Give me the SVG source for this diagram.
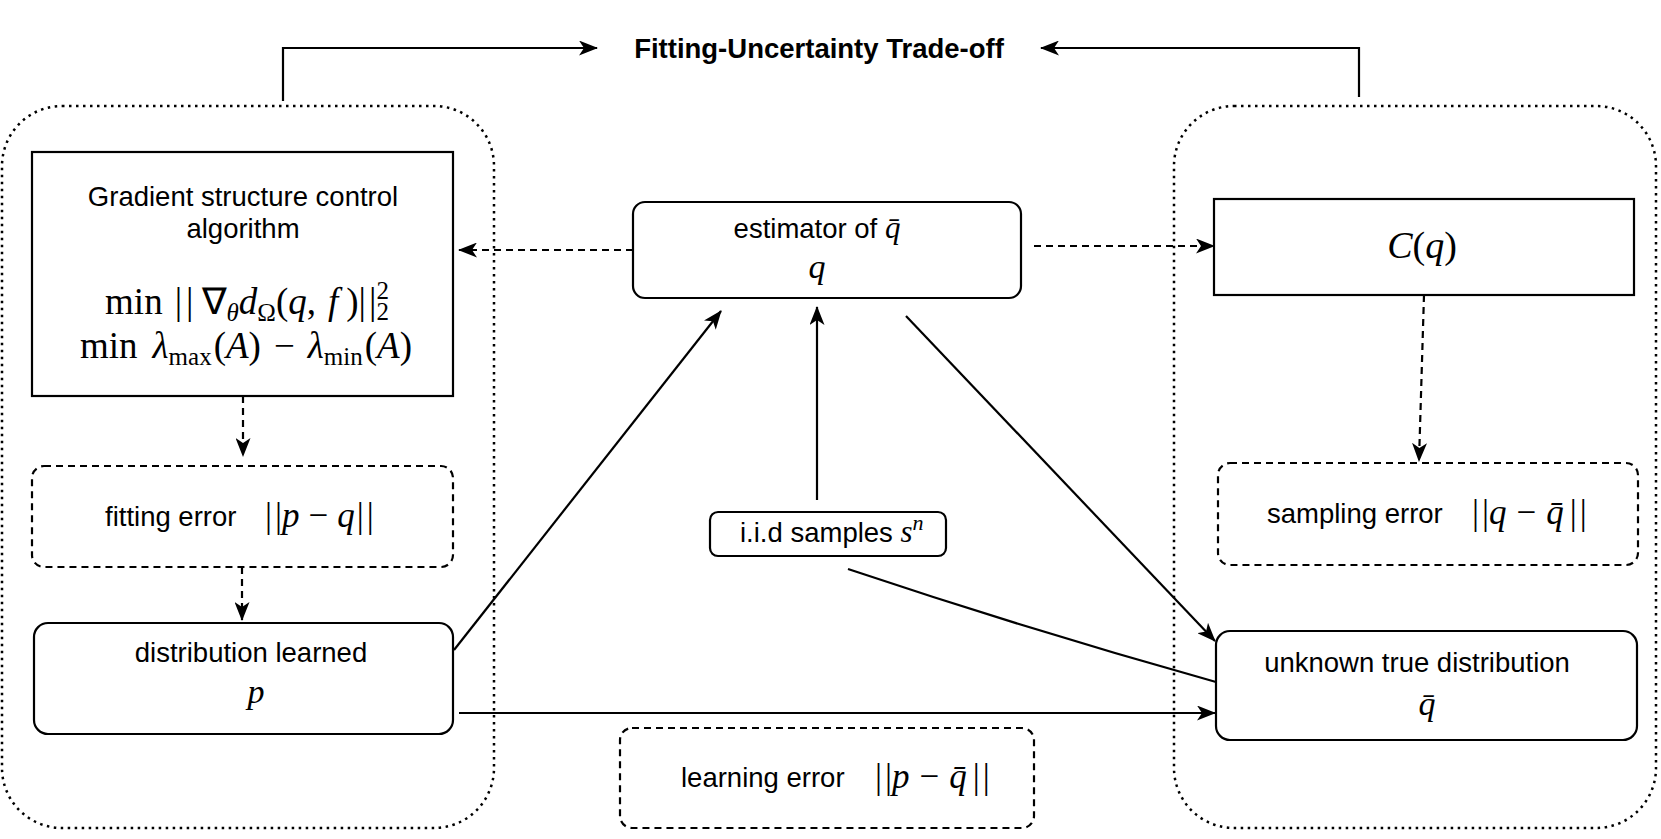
<svg xmlns="http://www.w3.org/2000/svg" width="1661" height="839" viewBox="0 0 1661 839">
<style>
.t{font-family:"Liberation Sans",Arial,sans-serif;font-size:27.5px;fill:#000}
.tb{font-family:"Liberation Sans",Arial,sans-serif;font-size:27.5px;font-weight:bold;fill:#000}
.m{font-family:"Liberation Serif","Times New Roman",serif;fill:#000}
.i{font-style:italic}
.box{fill:#fff;stroke:#000;stroke-width:2.2}
.dbox{fill:#fff;stroke:#000;stroke-width:2.2;stroke-dasharray:7 5}
.cont{fill:none;stroke:#000;stroke-width:2.5;stroke-dasharray:2.5 4.5}
.ln{fill:none;stroke:#000;stroke-width:2.2}
.dl{fill:none;stroke:#000;stroke-width:2.2;stroke-dasharray:7 5}
</style>
<defs>
<marker id="ar" markerUnits="userSpaceOnUse" markerWidth="19" markerHeight="15" viewBox="0 0 19 15" refX="18" refY="7.5" orient="auto">
<path d="M0,0 L19,7.5 L0,15 L5,7.5 Z" fill="#000"/>
</marker>
</defs>
<rect width="1661" height="839" fill="#fff"/>

<g id="left-container"><rect class="cont" x="2" y="106" width="492" height="722" rx="60"/></g>
<g id="right-container"><rect class="cont" x="1174" y="106" width="482" height="722" rx="60"/></g>

<g id="connectors">
<path class="ln" d="M283,101 V48 H597" marker-end="url(#ar)"/>
<path class="ln" d="M1359,97 V48 H1041" marker-end="url(#ar)"/>
<path class="dl" d="M633,250 H459" marker-end="url(#ar)"/>
<path class="dl" d="M1034,246 H1214" marker-end="url(#ar)"/>
<path class="dl" d="M243,396 V456" marker-end="url(#ar)"/>
<path class="dl" d="M242,567 V620" marker-end="url(#ar)"/>
<path class="dl" d="M1424,295 L1419,461" marker-end="url(#ar)"/>
<path class="ln" d="M454,650 L721,311" marker-end="url(#ar)"/>
<path class="ln" d="M817,500 V307" marker-end="url(#ar)"/>
<path class="ln" d="M906,316 L1215,641" marker-end="url(#ar)"/>
<path class="ln" d="M848,569 Q1030,630 1216,682"/>
<path class="ln" d="M459,713 H1215" marker-end="url(#ar)"/>
</g>

<g id="title"><text class="tb" x="819" y="58" text-anchor="middle">Fitting-Uncertainty Trade-off</text></g>

<g id="gradient-box">
<rect class="box" x="32" y="152" width="421" height="244"/>
<text class="t" x="243" y="206" text-anchor="middle">Gradient structure control</text>
<text class="t" x="243" y="238" text-anchor="middle">algorithm</text>
<text class="m" x="247" y="314" text-anchor="middle" style="font-size:37px">min<tspan dx="12">|</tspan><tspan dx="4">|</tspan><tspan dx="8">∇</tspan><tspan class="i" style="font-size:25px" dy="7">θ</tspan><tspan class="i" dy="-7">d</tspan><tspan style="font-size:25px" dy="7">Ω</tspan><tspan dy="-7">(</tspan><tspan class="i">q</tspan><tspan>,</tspan><tspan class="i" dx="12">f</tspan><tspan dx="8">)</tspan><tspan>|</tspan><tspan dx="3">|</tspan><tspan style="font-size:25px" dy="-15">2</tspan><tspan style="font-size:25px" dx="-12.5" dy="21">2</tspan></text>
<text class="m" x="246" y="358" text-anchor="middle" style="font-size:37px">min<tspan class="i" dx="15">λ</tspan><tspan style="font-size:25px" dy="7">max</tspan><tspan dy="-7" dx="2">(</tspan><tspan class="i">A</tspan>)<tspan dx="13">−</tspan><tspan class="i" dx="13">λ</tspan><tspan style="font-size:25px" dy="7">min</tspan><tspan dy="-7" dx="2">(</tspan><tspan class="i">A</tspan>)</text>
</g>

<g id="fitting-error">
<rect class="dbox" x="32" y="466" width="421" height="101" rx="12"/>
<text class="t" x="105" y="526">fitting error</text>
<text class="m" x="265" y="527" style="font-size:35px">|<tspan dx="3">|</tspan><tspan class="i">p</tspan><tspan dx="9">−</tspan><tspan class="i" dx="9">q</tspan><tspan dx="2">|</tspan><tspan dx="3">|</tspan></text>
</g>

<g id="distribution-learned">
<rect class="box" x="34" y="623" width="419" height="111" rx="14"/>
<text class="t" x="251" y="662" text-anchor="middle">distribution learned</text>
<text class="m i" x="256" y="703" text-anchor="middle" style="font-size:34px">p</text>
</g>

<g id="estimator">
<rect class="box" x="633" y="202" width="388" height="96" rx="12"/>
<text class="t" x="817" y="238" text-anchor="middle">estimator of <tspan class="m i" style="font-size:31px">q&#x304;</tspan></text>
<text class="m i" x="817" y="278" text-anchor="middle" style="font-size:34px">q</text>
</g>

<g id="iid-samples">
<rect class="box" x="710" y="512" width="236" height="44" rx="8"/>
<text class="t" x="740" y="542">i.i.d samples <tspan class="m i" style="font-size:31px">s</tspan><tspan class="m i" style="font-size:22px" dy="-12">n</tspan></text>
</g>

<g id="learning-error">
<rect class="dbox" x="620" y="728" width="414" height="100" rx="12"/>
<text class="t" x="681" y="787">learning error</text>
<text class="m" x="875" y="788" style="font-size:35px">|<tspan dx="3">|</tspan><tspan class="i">p</tspan><tspan dx="10">−</tspan><tspan class="i" dx="10">q&#x304;</tspan><tspan dx="6">|</tspan><tspan dx="3">|</tspan></text>
</g>

<g id="cq-box">
<rect class="box" x="1214" y="199" width="420" height="96"/>
<text class="m" x="1422" y="258" text-anchor="middle" style="font-size:38px"><tspan class="i">C</tspan>(<tspan class="i">q</tspan>)</text>
</g>

<g id="sampling-error">
<rect class="dbox" x="1218" y="463" width="420" height="102" rx="12"/>
<text class="t" x="1267" y="523">sampling error</text>
<text class="m" x="1472" y="524" style="font-size:35px">|<tspan dx="3">|</tspan><tspan class="i">q</tspan><tspan dx="10">−</tspan><tspan class="i" dx="10">q&#x304;</tspan><tspan dx="6">|</tspan><tspan dx="3">|</tspan></text>
</g>

<g id="unknown-true">
<rect class="box" x="1216" y="631" width="421" height="109" rx="14"/>
<text class="t" x="1417" y="672" text-anchor="middle">unknown true distribution</text>
<text class="m i" x="1427" y="715" text-anchor="middle" style="font-size:34px">q&#x304;</text>
</g>
</svg>
